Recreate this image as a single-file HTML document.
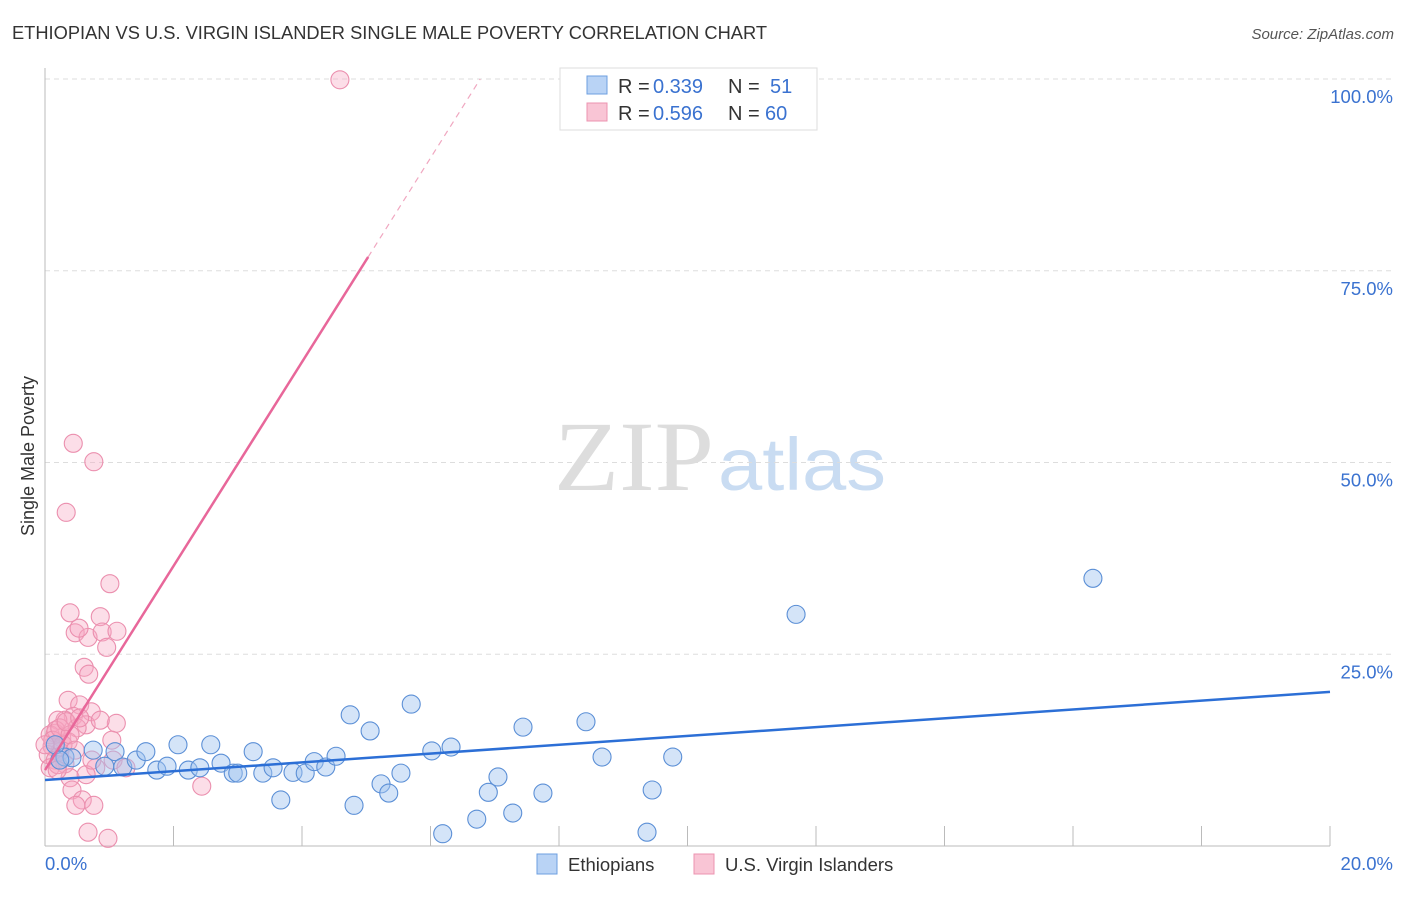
<!DOCTYPE html>
<html><head><meta charset="utf-8"><style>
body{margin:0;background:#fff;font-family:"Liberation Sans",sans-serif}
</style></head><body>
<svg id="chart" width="1406" height="892" xmlns="http://www.w3.org/2000/svg" font-family="Liberation Sans, sans-serif">
<text x="12" y="39" font-size="18" textLength="755" lengthAdjust="spacingAndGlyphs" fill="#333">ETHIOPIAN VS U.S. VIRGIN ISLANDER SINGLE MALE POVERTY CORRELATION CHART</text>
<text x="1394" y="39" font-size="15" fill="#555" font-style="italic" text-anchor="end">Source: ZipAtlas.com</text>
<text x="714" y="490" font-size="100" textLength="160" lengthAdjust="spacingAndGlyphs" fill="#ddd" text-anchor="end" font-family="Liberation Serif, serif">ZIP</text>
<text x="718" y="490" font-size="74" textLength="168" lengthAdjust="spacingAndGlyphs" fill="#c9dcf2">atlas</text>
<g id="grid"></g><g id="axes"></g><g id="marks"></g>
<text transform="translate(34,456) rotate(-90)" font-size="18" fill="#333" text-anchor="middle">Single Male Poverty</text>
<g font-size="20">
<rect x="560" y="68" width="257" height="62" fill="#fff" stroke="#ddd"/>
<rect x="587" y="76" width="20" height="18" fill="#b9d3f5" stroke="#6d9fe0"/>
<text x="618" y="93" fill="#333">R =</text><text x="653" y="93" fill="#3a72d0">0.339</text>
<text x="728" y="93" fill="#333">N =</text><text x="770" y="93" fill="#3a72d0">51</text>
<rect x="587" y="103" width="20" height="18" fill="#f9c5d5" stroke="#ec93b0"/>
<text x="618" y="120" fill="#333">R =</text><text x="653" y="120" fill="#3a72d0">0.596</text>
<text x="728" y="120" fill="#333">N =</text><text x="765" y="120" fill="#3a72d0">60</text>
</g>
<g>
<rect x="537" y="854" width="20" height="20" fill="#b9d3f5" stroke="#6d9fe0"/>
<text x="568" y="871" font-size="18.5" fill="#333">Ethiopians</text>
<rect x="694" y="854" width="20" height="20" fill="#f9c5d5" stroke="#ec93b0"/>
<text x="725" y="871" font-size="18.5" fill="#333">U.S. Virgin Islanders</text>
</g>
</svg>
<script>
const blueX=[0.31,0.42,0.75,0.93,1.09,1.21,1.42,1.57,1.74,1.90,2.07,2.23,2.41,2.58,2.74,2.93,3.00,3.24,3.39,3.55,3.67,3.86,4.05,4.19,4.37,4.53,4.75,4.81,5.06,5.23,5.35,5.54,5.70,6.02,6.19,6.32,6.72,6.90,7.05,7.28,7.44,7.75,8.42,8.67,9.37,9.45,9.77,11.69,16.31,0.16,0.23];
const blueY=[11.6,11.5,12.5,10.4,12.3,10.3,11.2,12.3,9.9,10.4,13.2,9.9,10.2,13.2,10.8,9.5,9.5,12.3,9.5,10.2,6.0,9.6,9.5,11.0,10.3,11.7,17.1,5.3,15.0,8.1,6.9,9.5,18.5,12.4,1.6,12.9,3.5,7.0,9.0,4.3,15.5,6.9,16.2,11.6,1.8,7.3,11.6,30.2,34.9,13.2,11.2];
const pinkX=[4.59,0.44,0.76,0.33,1.01,0.39,0.86,0.47,0.67,0.89,1.12,0.53,0.96,0.61,0.68,0.36,0.54,0.72,0.44,0.31,0.20,0.64,0.50,1.11,0.16,0.26,0.36,0.11,0.23,0.05,0.16,0.31,0.08,0.20,1.04,1.06,0.79,1.26,0.39,0.64,0.42,0.58,0.76,0.48,2.44,0.67,0.98,0.08,0.17,0.28,0.12,0.23,0.39,0.73,0.86,0.19,0.33,0.47,0.0,0.54];
const pinkY=[99.9,52.5,50.1,43.5,34.2,30.4,29.9,27.8,27.2,27.9,28.0,28.4,25.9,23.3,22.4,19.0,18.4,17.5,16.9,16.4,16.4,15.8,15.4,16.0,14.7,14.1,13.6,13.0,12.3,11.9,11.2,10.7,10.2,10.6,13.8,11.2,10.2,10.2,8.9,9.3,7.3,6.0,5.3,5.3,7.8,1.8,1.0,14.5,15.1,13.2,13.8,15.4,14.5,11.2,16.4,9.9,16.2,12.5,13.2,16.7];
const blueTrend=[8.6,20.1];      // y at x=0 and x=20
const pinkTrend=[9.9,13.3];      // intercept, slope
const yTicks=[25,50,75,100];
const yTickLabels=["25.0%","50.0%","75.0%","100.0%"];
const xTicks=[0,2,4,6,8,10,12,14,16,18,20];

const NS="http://www.w3.org/2000/svg";
const sx=v=>45+v*64.25, sy=v=>846-v*7.67;
function mk(tag,attrs,parent){const e=document.createElementNS(NS,tag);for(const k in attrs)e.setAttribute(k,attrs[k]);document.getElementById(parent).appendChild(e);return e;}
yTicks.forEach((t,i)=>{
  const g=mk('line',{x1:45,x2:1395,y1:sy(t),y2:sy(t),stroke:'#ddd','stroke-dasharray':'5,4'},'grid');
  
  
  const l=mk('text',{x:1393,y:sy(t)+24,'font-size':18.5,fill:'#3a72d0','text-anchor':'end'},'axes');
  l.textContent=yTickLabels[i];
  
  
});
const ax=mk('line',{x1:45,x2:45,y1:68,y2:846,stroke:'#bbb'},'axes');


const bx=mk('line',{x1:45,x2:1330,y1:846,y2:846,stroke:'#bbb'},'axes');


xTicks.forEach(t=>{
  const e=mk('line',{x1:sx(t),x2:sx(t),y1:826,y2:846,stroke:'#bbb'},'axes');
  
  
});
const x0=mk('text',{x:45,y:870,'font-size':18.5,fill:'#3a72d0'},'axes');x0.textContent='0.0%';


const x1=mk('text',{x:1393,y:870,'font-size':18.5,fill:'#3a72d0','text-anchor':'end'},'axes');x1.textContent='20.0%';



pinkX.forEach((x,i)=>{
  const c=mk('circle',{cx:sx(x),cy:sy(pinkY[i]),r:9,fill:'rgba(246,168,195,0.38)',stroke:'#eb8fae','stroke-width':1.1},'marks');
  
  
});
blueX.forEach((x,i)=>{
  const c=mk('circle',{cx:sx(x),cy:sy(blueY[i]),r:9,fill:'rgba(160,196,240,0.45)',stroke:'#5b8fd6','stroke-width':1.1},'marks');
  
  
});
const bl=mk('line',{x1:sx(0),y1:sy(blueTrend[0]),x2:sx(20),y2:sy(blueTrend[1]),stroke:'#2c6fd6','stroke-width':2.5},'marks');


const xs=5.03, xe=(100-pinkTrend[0])/pinkTrend[1];
const pl=mk('line',{x1:sx(0),y1:sy(pinkTrend[0]),x2:sx(xs),y2:sy(pinkTrend[0]+pinkTrend[1]*xs),stroke:'#e8679a','stroke-width':2.5},'marks');


const pd=mk('line',{x1:sx(xs),y1:sy(pinkTrend[0]+pinkTrend[1]*xs),x2:sx(xe),y2:sy(100),stroke:'#f0a7c0','stroke-width':1.2,'stroke-dasharray':'6,5'},'marks');


</script>
</body></html>
